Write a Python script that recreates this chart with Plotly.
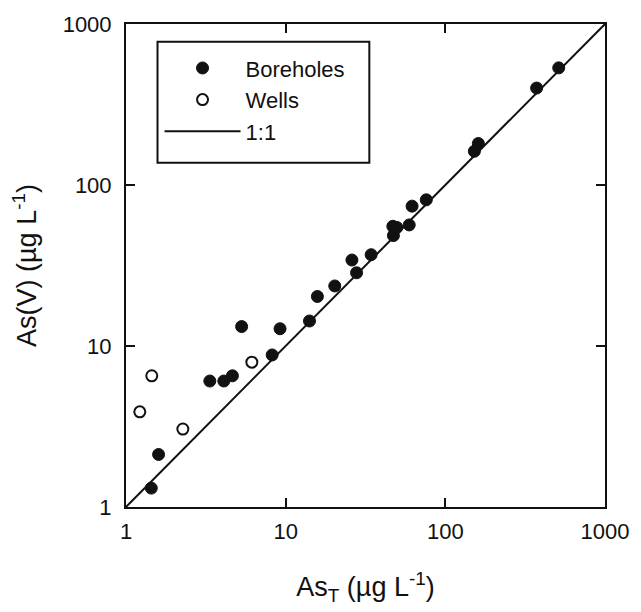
import plotly.graph_objects as go

# Data (µg/L)
boreholes_x = [1.44, 1.60, 3.35, 4.10, 4.64, 5.30, 8.23, 9.22, 14.1, 15.8, 20.3, 26.0, 27.8,
               34.3, 46.9, 49.7, 47.3, 59.4, 61.9, 76.0, 152, 161, 373, 513]
boreholes_y = [1.31, 2.12, 6.06, 6.06, 6.53, 13.2, 8.80, 12.8, 14.3, 20.3, 23.6, 34.2, 28.5,
               36.9, 55.4, 54.5, 48.5, 56.5, 73.9, 80.9, 162, 181, 400, 534]
wells_x = [1.22, 1.45, 2.27, 6.14]
wells_y = [3.90, 6.53, 3.05, 7.94]
line_x = [1, 1000]
line_y = [1, 1000]
tick_vals = [1, 10, 100, 1000]
tick_text = ["1", "10", "100", "1000"]

FONT = "Liberation Sans, Arial, sans-serif"
INK = "#111111"

fig = go.Figure()
fig.add_trace(go.Scatter(x=boreholes_x, y=boreholes_y, mode="markers", name="Boreholes",
                         marker=dict(symbol="circle", size=12, color=INK,
                                     line=dict(color=INK, width=1))))
fig.add_trace(go.Scatter(x=wells_x, y=wells_y, mode="markers", name="Wells",
                         marker=dict(symbol="circle-open", size=11, color=INK,
                                     line=dict(color=INK, width=2))))
fig.add_trace(go.Scatter(x=line_x, y=line_y, mode="lines", name="1:1",
                         line=dict(color=INK, width=2)))

axis_common = dict(type="log", range=[0, 3], tickvals=tick_vals, ticktext=tick_text,
                   ticks="inside", ticklen=9, tickwidth=2, tickcolor=INK,
                   showline=True, linecolor=INK, linewidth=2, mirror="allticks",
                   showgrid=False, zeroline=False,
                   tickfont=dict(family=FONT, size=22, color=INK))

fig.update_xaxes(**axis_common, ticklabelstandoff=4,
                 title=dict(text="As<sub>T</sub> (µg L<sup>-1</sup>)",
                            font=dict(family=FONT, size=27, color=INK), standoff=34))
fig.update_yaxes(**axis_common, ticklabelstandoff=8,
                 title=dict(text="As(V) (µg L<sup>-1</sup>)",
                            font=dict(family=FONT, size=27, color=INK), standoff=18))

# legend frame (paper coordinates)
fig.add_shape(type="rect", xref="paper", yref="paper",
              x0=0.0658, x1=0.508, y0=0.7125, y1=0.963,
              line=dict(color=INK, width=2), fillcolor="rgba(0,0,0,0)", layer="above")

fig.update_layout(
    width=641, height=612,
    margin=dict(l=126, r=29, t=20, b=105),
    paper_bgcolor="white", plot_bgcolor="white",
    font=dict(family=FONT, color=INK),
    showlegend=True,
    legend=dict(x=0.07, y=0.952, xanchor="left", yanchor="top",
                borderwidth=0, bgcolor="rgba(0,0,0,0)",
                font=dict(family=FONT, size=22, color=INK),
                itemwidth=76, tracegroupgap=0),
)

fig.write_html("out.html")
